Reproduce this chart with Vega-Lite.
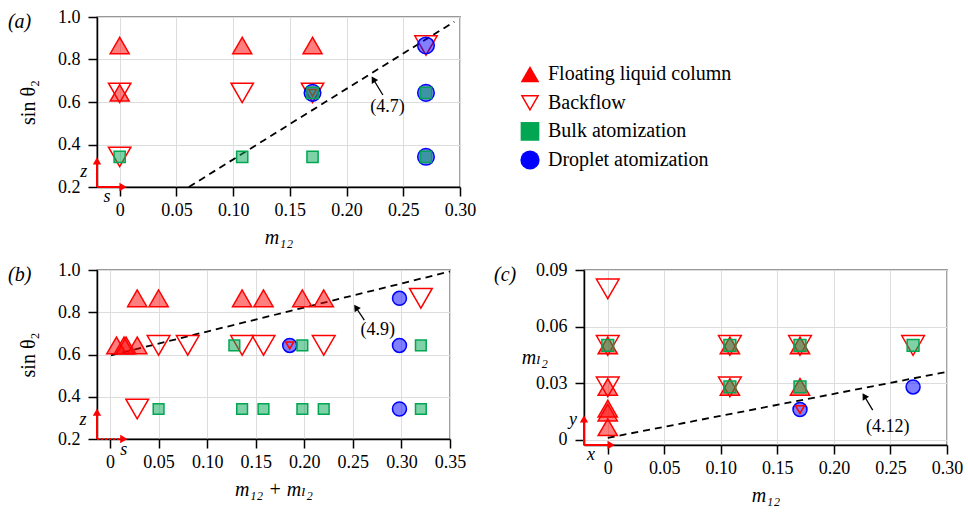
{
  "$schema": "https://vega.github.io/schema/vega-lite/v6.json",
  "padding": {"left": 7, "top": 7, "right": 0, "bottom": 0},
  "bounds": "flush",
  "columns": 2,
  "spacing": {"row": 83, "column": 124},
  "datasets": {
    "a_points": [
      {"m12": 0, "sin_theta2": 0.866, "regime": "Floating liquid column"},
      {"m12": 0.108, "sin_theta2": 0.866, "regime": "Floating liquid column"},
      {"m12": 0.17, "sin_theta2": 0.866, "regime": "Floating liquid column"},
      {"m12": 0, "sin_theta2": 0.643, "regime": "Floating liquid column"},
      {"m12": 0, "sin_theta2": 0.643, "regime": "Backflow"},
      {"m12": 0, "sin_theta2": 0.342, "regime": "Backflow"},
      {"m12": 0.108, "sin_theta2": 0.643, "regime": "Backflow"},
      {"m12": 0.17, "sin_theta2": 0.643, "regime": "Backflow"},
      {"m12": 0.27, "sin_theta2": 0.866, "regime": "Backflow"},
      {"m12": 0.17, "sin_theta2": 0.643, "regime": "Backflow", "within_droplet": true},
      {"m12": 0.17, "sin_theta2": 0.643, "regime": "Droplet atomization"},
      {"m12": 0.27, "sin_theta2": 0.866, "regime": "Droplet atomization"},
      {"m12": 0.27, "sin_theta2": 0.643, "regime": "Droplet atomization"},
      {"m12": 0.27, "sin_theta2": 0.342, "regime": "Droplet atomization"},
      {"m12": 0, "sin_theta2": 0.342, "regime": "Bulk atomization"},
      {"m12": 0.108, "sin_theta2": 0.342, "regime": "Bulk atomization"},
      {"m12": 0.17, "sin_theta2": 0.342, "regime": "Bulk atomization"},
      {"m12": 0.17, "sin_theta2": 0.643, "regime": "Bulk atomization"},
      {"m12": 0.27, "sin_theta2": 0.643, "regime": "Bulk atomization"},
      {"m12": 0.27, "sin_theta2": 0.342, "regime": "Bulk atomization"}
    ],
    "a_boundary": [{"m12": 0.061, "sin_theta2": 0.2}, {"m12": 0.295, "sin_theta2": 0.978}],
    "a_arrow": [{"m12": 0.232, "sin_theta2": 0.633, "m12_end": 0.2236, "sin_theta2_end": 0.707}],
    "a_arrow_head": [{"m12": 0.2236, "sin_theta2": 0.707}],
    "a_note": [{"m12": 0.236, "sin_theta2": 0.575, "label": "(4.7)"}],
    "a_frame": [
      {"m12": -0.02, "sin_theta2": 0.2, "m12_end": -0.02, "sin_theta2_end": 0.323},
      {"m12": -0.02, "sin_theta2": 0.2, "m12_end": 0.003, "sin_theta2_end": 0.2}
    ],
    "a_frame_up": [{"m12": -0.02, "sin_theta2": 0.323}],
    "a_frame_right": [{"m12": 0.003, "sin_theta2": 0.2}],
    "a_frame_labels": [
      {"m12": -0.0317, "sin_theta2": 0.271, "label": "z"},
      {"m12": -0.0112, "sin_theta2": 0.153, "label": "s"}
    ],
    "a_tag": [{"m12": -0.0985, "sin_theta2": 0.9765, "label": "(a)"}],
    "b_points": [
      {"m12_plus_mL2": 0.028, "sin_theta2": 0.866, "regime": "Floating liquid column"},
      {"m12_plus_mL2": 0.05, "sin_theta2": 0.866, "regime": "Floating liquid column"},
      {"m12_plus_mL2": 0.136, "sin_theta2": 0.866, "regime": "Floating liquid column"},
      {"m12_plus_mL2": 0.158, "sin_theta2": 0.866, "regime": "Floating liquid column"},
      {"m12_plus_mL2": 0.198, "sin_theta2": 0.866, "regime": "Floating liquid column"},
      {"m12_plus_mL2": 0.22, "sin_theta2": 0.866, "regime": "Floating liquid column"},
      {"m12_plus_mL2": 0.0066, "sin_theta2": 0.643, "regime": "Floating liquid column"},
      {"m12_plus_mL2": 0.0144, "sin_theta2": 0.643, "regime": "Floating liquid column"},
      {"m12_plus_mL2": 0.0165, "sin_theta2": 0.643, "regime": "Floating liquid column"},
      {"m12_plus_mL2": 0.028, "sin_theta2": 0.643, "regime": "Floating liquid column"},
      {"m12_plus_mL2": 0.05, "sin_theta2": 0.643, "regime": "Backflow"},
      {"m12_plus_mL2": 0.08, "sin_theta2": 0.643, "regime": "Backflow"},
      {"m12_plus_mL2": 0.136, "sin_theta2": 0.643, "regime": "Backflow"},
      {"m12_plus_mL2": 0.158, "sin_theta2": 0.643, "regime": "Backflow"},
      {"m12_plus_mL2": 0.22, "sin_theta2": 0.643, "regime": "Backflow"},
      {"m12_plus_mL2": 0.32, "sin_theta2": 0.866, "regime": "Backflow"},
      {"m12_plus_mL2": 0.028, "sin_theta2": 0.342, "regime": "Backflow"},
      {"m12_plus_mL2": 0.185, "sin_theta2": 0.643, "regime": "Backflow", "within_droplet": true},
      {"m12_plus_mL2": 0.185, "sin_theta2": 0.643, "regime": "Droplet atomization"},
      {"m12_plus_mL2": 0.298, "sin_theta2": 0.866, "regime": "Droplet atomization"},
      {"m12_plus_mL2": 0.298, "sin_theta2": 0.643, "regime": "Droplet atomization"},
      {"m12_plus_mL2": 0.298, "sin_theta2": 0.342, "regime": "Droplet atomization"},
      {"m12_plus_mL2": 0.128, "sin_theta2": 0.643, "regime": "Bulk atomization"},
      {"m12_plus_mL2": 0.198, "sin_theta2": 0.643, "regime": "Bulk atomization"},
      {"m12_plus_mL2": 0.32, "sin_theta2": 0.643, "regime": "Bulk atomization"},
      {"m12_plus_mL2": 0.05, "sin_theta2": 0.342, "regime": "Bulk atomization"},
      {"m12_plus_mL2": 0.136, "sin_theta2": 0.342, "regime": "Bulk atomization"},
      {"m12_plus_mL2": 0.158, "sin_theta2": 0.342, "regime": "Bulk atomization"},
      {"m12_plus_mL2": 0.198, "sin_theta2": 0.342, "regime": "Bulk atomization"},
      {"m12_plus_mL2": 0.22, "sin_theta2": 0.342, "regime": "Bulk atomization"},
      {"m12_plus_mL2": 0.32, "sin_theta2": 0.342, "regime": "Bulk atomization"}
    ],
    "b_boundary": [{"m12_plus_mL2": 0.001, "sin_theta2": 0.596}, {"m12_plus_mL2": 0.35, "sin_theta2": 0.993}],
    "b_arrow": [{"m12_plus_mL2": 0.2618, "sin_theta2": 0.763, "m12_plus_mL2_end": 0.2532, "sin_theta2_end": 0.8225}],
    "b_arrow_head": [{"m12_plus_mL2": 0.2532, "sin_theta2": 0.8225}],
    "b_note": [{"m12_plus_mL2": 0.2756, "sin_theta2": 0.716, "label": "(4.9)"}],
    "b_frame_up_rule": [{"m12_plus_mL2": -0.0134, "sin_theta2": 0.2, "m12_plus_mL2_end": -0.0134, "sin_theta2_end": 0.327}],
    "b_frame_right_rule": [{"m12_plus_mL2": -0.0134, "sin_theta2": 0.2, "m12_plus_mL2_end": 0.0142, "sin_theta2_end": 0.2}],
    "b_frame_up": [{"m12_plus_mL2": -0.0134, "sin_theta2": 0.327}],
    "b_frame_right": [{"m12_plus_mL2": 0.0142, "sin_theta2": 0.2}],
    "b_frame_labels": [
      {"m12_plus_mL2": -0.0278, "sin_theta2": 0.29, "label": "z"},
      {"m12_plus_mL2": 0.0141, "sin_theta2": 0.148, "label": "s"}
    ],
    "b_tag": [{"m12_plus_mL2": -0.105, "sin_theta2": 0.976, "label": "(b)"}],
    "c_points": [
      {"m12": 0, "mL2": 0.05, "regime": "Floating liquid column"},
      {"m12": 0, "mL2": 0.028, "regime": "Floating liquid column"},
      {"m12": 0, "mL2": 0.0165, "regime": "Floating liquid column"},
      {"m12": 0, "mL2": 0.0144, "regime": "Floating liquid column"},
      {"m12": 0, "mL2": 0.0066, "regime": "Floating liquid column"},
      {"m12": 0.108, "mL2": 0.05, "regime": "Floating liquid column"},
      {"m12": 0.108, "mL2": 0.028, "regime": "Floating liquid column"},
      {"m12": 0.17, "mL2": 0.05, "regime": "Floating liquid column"},
      {"m12": 0.17, "mL2": 0.028, "regime": "Floating liquid column"},
      {"m12": 0, "mL2": 0.08, "regime": "Backflow"},
      {"m12": 0, "mL2": 0.05, "regime": "Backflow"},
      {"m12": 0, "mL2": 0.028, "regime": "Backflow"},
      {"m12": 0.108, "mL2": 0.05, "regime": "Backflow"},
      {"m12": 0.108, "mL2": 0.028, "regime": "Backflow"},
      {"m12": 0.17, "mL2": 0.05, "regime": "Backflow"},
      {"m12": 0.27, "mL2": 0.05, "regime": "Backflow"},
      {"m12": 0.17, "mL2": 0.016, "regime": "Backflow", "within_droplet": true},
      {"m12": 0.17, "mL2": 0.016, "regime": "Droplet atomization"},
      {"m12": 0.27, "mL2": 0.028, "regime": "Droplet atomization"},
      {"m12": 0, "mL2": 0.05, "regime": "Bulk atomization"},
      {"m12": 0.108, "mL2": 0.05, "regime": "Bulk atomization"},
      {"m12": 0.108, "mL2": 0.028, "regime": "Bulk atomization"},
      {"m12": 0.17, "mL2": 0.05, "regime": "Bulk atomization"},
      {"m12": 0.17, "mL2": 0.028, "regime": "Bulk atomization"},
      {"m12": 0.27, "mL2": 0.05, "regime": "Bulk atomization"}
    ],
    "c_boundary": [{"m12": 0, "mL2": 0.001}, {"m12": 0.3, "mL2": 0.036}],
    "c_arrow": [{"m12": 0.2343, "mL2": 0.0157, "m12_end": 0.2268, "mL2_end": 0.0232}],
    "c_arrow_head": [{"m12": 0.2268, "mL2": 0.0232}],
    "c_note": [{"m12": 0.2476, "mL2": 0.0066, "label": "(4.12)"}],
    "c_frame": [
      {"m12": -0.021, "mL2": -0.0028, "m12_end": -0.021, "mL2_end": 0.011},
      {"m12": -0.021, "mL2": -0.0028, "m12_end": 0.003, "mL2_end": -0.0028}
    ],
    "c_frame_up": [{"m12": -0.021, "mL2": 0.011}],
    "c_frame_right": [{"m12": 0.003, "mL2": -0.0028}],
    "c_frame_labels": [
      {"m12": -0.0307, "mL2": 0.0104, "label": "y"},
      {"m12": -0.0148, "mL2": -0.0081, "label": "x"}
    ],
    "c_tag": [{"m12": -0.1006, "mL2": 0.0873, "label": "(c)"}],
    "legend": [
      {"regime": "Floating liquid column"},
      {"regime": "Backflow"},
      {"regime": "Bulk atomization"},
      {"regime": "Droplet atomization"}
    ]
  },
  "concat": [
    {
      "width": 363,
      "height": 170,
      "encoding": {
        "x": {"field": "m12", "type": "quantitative", "scale": {"domain": [-0.02, 0.3], "nice": false, "zero": false},
          "axis": {"title": "m₁₂", "titleFontStyle": "italic", "values": [0, 0.05, 0.1, 0.15, 0.2, 0.25, 0.3], "labelExpr": "datum.value == 0 ? '0' : format(datum.value, '.2f')"}},
        "y": {"field": "sin_theta2", "type": "quantitative", "scale": {"domain": [0.2, 1], "nice": false, "zero": false},
          "axis": {"title": "sin θ₂", "values": [0.2, 0.4, 0.6, 0.8, 1], "format": ".1f"}}
      },
      "layer": [
        {"data": {"name": "a_boundary"}, "mark": {"type": "line", "color": "#000000", "strokeDash": [7, 5], "strokeWidth": 1.8}},
        {"data": {"name": "a_points"}, "transform": [{"filter": "datum.regime === 'Backflow' && !datum.within_droplet"}],
          "mark": {"type": "point", "shape": "triangle-down", "filled": false, "stroke": "#ff0000", "strokeWidth": 1.5, "opacity": 1, "size": 500}},
        {"data": {"name": "a_points"}, "transform": [{"filter": "datum.regime === 'Floating liquid column'"}],
          "mark": {"type": "point", "shape": "triangle-up", "filled": true, "fill": "#ff0000", "fillOpacity": 0.5, "stroke": "#ff0000", "strokeWidth": 1.5, "opacity": 1, "size": 360}},
        {"data": {"name": "a_points"}, "transform": [{"filter": "datum.regime === 'Droplet atomization'"}],
          "mark": {"type": "point", "shape": "circle", "filled": true, "fill": "#0000ff", "fillOpacity": 0.5, "stroke": "#0000ff", "strokeWidth": 1.5, "opacity": 1, "size": 275}},
        {"data": {"name": "a_points"}, "transform": [{"filter": "datum.regime === 'Backflow' && datum.within_droplet"}],
          "mark": {"type": "point", "shape": "triangle-down", "filled": false, "stroke": "#ff0000", "strokeWidth": 1.5, "opacity": 1, "size": 60}},
        {"data": {"name": "a_points"}, "transform": [{"filter": "datum.regime === 'Bulk atomization'"}],
          "mark": {"type": "point", "shape": "square", "filled": true, "fill": "#00a651", "fillOpacity": 0.5, "stroke": "#00a651", "strokeWidth": 1.5, "opacity": 1, "size": 125}},
        {"data": {"name": "a_arrow"}, "mark": {"type": "rule", "color": "#000000", "strokeWidth": 1.3},
          "encoding": {"x2": {"field": "m12_end"}, "y2": {"field": "sin_theta2_end"}}},
        {"data": {"name": "a_arrow_head"}, "mark": {"type": "point", "shape": "triangle-up", "filled": true, "color": "#000000", "opacity": 1, "size": 55, "angle": 329}},
        {"data": {"name": "a_note"}, "mark": {"type": "text", "fontSize": 18, "align": "center", "baseline": "middle"}, "encoding": {"text": {"field": "label"}}},
        {"data": {"name": "a_frame"}, "mark": {"type": "rule", "color": "#ff0000", "strokeWidth": 2},
          "encoding": {"x2": {"field": "m12_end"}, "y2": {"field": "sin_theta2_end"}}},
        {"data": {"name": "a_frame_up"}, "mark": {"type": "point", "shape": "triangle-up", "filled": true, "color": "#ff0000", "opacity": 1, "size": 70}},
        {"data": {"name": "a_frame_right"}, "mark": {"type": "point", "shape": "triangle-right", "filled": true, "color": "#ff0000", "opacity": 1, "size": 70}},
        {"data": {"name": "a_frame_labels"}, "mark": {"type": "text", "fontSize": 18, "fontStyle": "italic", "align": "center", "baseline": "middle"}, "encoding": {"text": {"field": "label"}}},
        {"data": {"name": "a_tag"}, "mark": {"type": "text", "fontSize": 20, "fontStyle": "italic", "align": "left", "baseline": "middle"}, "encoding": {"text": {"field": "label"}}}
      ]
    },
    {
      "width": 200,
      "height": 143,
      "view": {"stroke": null},
      "data": {"name": "legend"},
      "encoding": {
        "x": {"datum": -0.27, "type": "quantitative", "scale": {"domain": [0, 1], "nice": false, "zero": false}, "axis": null},
        "y": {"field": "regime", "type": "nominal", "sort": null, "scale": {"type": "point", "padding": 1, "align": 1}, "axis": null}
      },
      "layer": [
        {"transform": [{"filter": "datum.regime === 'Floating liquid column'"}],
          "mark": {"type": "point", "shape": "triangle-up", "filled": true, "fill": "#ff0000", "strokeWidth": 0, "opacity": 1, "size": 350}},
        {"transform": [{"filter": "datum.regime === 'Backflow'"}],
          "mark": {"type": "point", "shape": "triangle-down", "filled": false, "stroke": "#ff0000", "strokeWidth": 1.5, "opacity": 1, "size": 260}},
        {"transform": [{"filter": "datum.regime === 'Bulk atomization'"}],
          "mark": {"type": "point", "shape": "square", "filled": true, "fill": "#00a651", "strokeWidth": 0, "opacity": 1, "size": 350}},
        {"transform": [{"filter": "datum.regime === 'Droplet atomization'"}],
          "mark": {"type": "point", "shape": "circle", "filled": true, "fill": "#0000ff", "strokeWidth": 0, "opacity": 1, "size": 370}},
        {"mark": {"type": "text", "align": "left", "baseline": "middle", "dx": 18, "fontSize": 20}, "encoding": {"text": {"field": "regime"}}}
      ]
    },
    {
      "width": 353,
      "height": 169,
      "encoding": {
        "x": {"field": "m12_plus_mL2", "type": "quantitative", "scale": {"domain": [-0.0134, 0.35], "nice": false, "zero": false},
          "axis": {"title": "m₁₂ + mₗ₂", "titleFontStyle": "italic", "values": [0, 0.05, 0.1, 0.15, 0.2, 0.25, 0.3, 0.35], "labelExpr": "datum.value == 0 ? '0' : format(datum.value, '.2f')"}},
        "y": {"field": "sin_theta2", "type": "quantitative", "scale": {"domain": [0.2, 1], "nice": false, "zero": false},
          "axis": {"title": "sin θ₂", "values": [0.2, 0.4, 0.6, 0.8, 1], "format": ".1f"}}
      },
      "layer": [
        {"data": {"name": "b_boundary"}, "mark": {"type": "line", "color": "#000000", "strokeDash": [7, 5], "strokeWidth": 1.8}},
        {"data": {"name": "b_points"}, "transform": [{"filter": "datum.regime === 'Backflow' && !datum.within_droplet"}],
          "mark": {"type": "point", "shape": "triangle-down", "filled": false, "stroke": "#ff0000", "strokeWidth": 1.5, "opacity": 1, "size": 515}},
        {"data": {"name": "b_points"}, "transform": [{"filter": "datum.regime === 'Floating liquid column'"}],
          "mark": {"type": "point", "shape": "triangle-up", "filled": true, "fill": "#ff0000", "fillOpacity": 0.5, "stroke": "#ff0000", "strokeWidth": 1.5, "opacity": 1, "size": 370}},
        {"data": {"name": "b_points"}, "transform": [{"filter": "datum.regime === 'Droplet atomization'"}],
          "mark": {"type": "point", "shape": "circle", "filled": true, "fill": "#0000ff", "fillOpacity": 0.5, "stroke": "#0000ff", "strokeWidth": 1.5, "opacity": 1, "size": 196}},
        {"data": {"name": "b_points"}, "transform": [{"filter": "datum.regime === 'Backflow' && datum.within_droplet"}],
          "mark": {"type": "point", "shape": "triangle-down", "filled": false, "stroke": "#ff0000", "strokeWidth": 1.5, "opacity": 1, "size": 65}},
        {"data": {"name": "b_points"}, "transform": [{"filter": "datum.regime === 'Bulk atomization'"}],
          "mark": {"type": "point", "shape": "square", "filled": true, "fill": "#00a651", "fillOpacity": 0.5, "stroke": "#00a651", "strokeWidth": 1.5, "opacity": 1, "size": 115}},
        {"data": {"name": "b_arrow"}, "mark": {"type": "rule", "color": "#000000", "strokeWidth": 1.3},
          "encoding": {"x2": {"field": "m12_plus_mL2_end"}, "y2": {"field": "sin_theta2_end"}}},
        {"data": {"name": "b_arrow_head"}, "mark": {"type": "point", "shape": "triangle-up", "filled": true, "color": "#000000", "opacity": 1, "size": 55, "angle": 326}},
        {"data": {"name": "b_note"}, "mark": {"type": "text", "fontSize": 18, "align": "center", "baseline": "middle"}, "encoding": {"text": {"field": "label"}}},
        {"data": {"name": "b_frame_up_rule"}, "mark": {"type": "rule", "color": "#ff0000", "strokeWidth": 2},
          "encoding": {"x2": {"field": "m12_plus_mL2_end"}, "y2": {"field": "sin_theta2_end"}}},
        {"data": {"name": "b_frame_right_rule"}, "mark": {"type": "rule", "color": "#ff0000", "strokeWidth": 2, "strokeDash": [2, 2]},
          "encoding": {"x2": {"field": "m12_plus_mL2_end"}, "y2": {"field": "sin_theta2_end"}}},
        {"data": {"name": "b_frame_up"}, "mark": {"type": "point", "shape": "triangle-up", "filled": true, "color": "#ff0000", "opacity": 1, "size": 70}},
        {"data": {"name": "b_frame_right"}, "mark": {"type": "point", "shape": "triangle-right", "filled": true, "color": "#ff0000", "opacity": 1, "size": 70}},
        {"data": {"name": "b_frame_labels"}, "mark": {"type": "text", "fontSize": 18, "fontStyle": "italic", "align": "center", "baseline": "middle"}, "encoding": {"text": {"field": "label"}}},
        {"data": {"name": "b_tag"}, "mark": {"type": "text", "fontSize": 20, "fontStyle": "italic", "align": "left", "baseline": "middle"}, "encoding": {"text": {"field": "label"}}}
      ]
    },
    {
      "width": 363,
      "height": 175,
      "encoding": {
        "x": {"field": "m12", "type": "quantitative", "scale": {"domain": [-0.021, 0.3], "nice": false, "zero": false},
          "axis": {"title": "m₁₂", "titleFontStyle": "italic", "values": [0, 0.05, 0.1, 0.15, 0.2, 0.25, 0.3], "labelExpr": "datum.value == 0 ? '0' : format(datum.value, '.2f')"}},
        "y": {"field": "mL2", "type": "quantitative", "scale": {"domain": [-0.0028, 0.09], "nice": false, "zero": false},
          "axis": {"title": "mₗ₂", "titleFontStyle": "italic", "titleAngle": 0, "titleAlign": "right", "titleBaseline": "middle", "titlePadding": -12, "values": [0, 0.03, 0.06, 0.09], "labelExpr": "datum.value == 0 ? '0' : format(datum.value, '.2f')"}}
      },
      "layer": [
        {"data": {"name": "c_boundary"}, "mark": {"type": "line", "color": "#000000", "strokeDash": [7, 5], "strokeWidth": 1.8}},
        {"data": {"name": "c_points"}, "transform": [{"filter": "datum.regime === 'Backflow' && !datum.within_droplet"}],
          "mark": {"type": "point", "shape": "triangle-down", "filled": false, "stroke": "#ff0000", "strokeWidth": 1.5, "opacity": 1, "size": 515}},
        {"data": {"name": "c_points"}, "transform": [{"filter": "datum.regime === 'Floating liquid column'"}],
          "mark": {"type": "point", "shape": "triangle-up", "filled": true, "fill": "#ff0000", "fillOpacity": 0.5, "stroke": "#ff0000", "strokeWidth": 1.5, "opacity": 1, "size": 370}},
        {"data": {"name": "c_points"}, "transform": [{"filter": "datum.regime === 'Droplet atomization'"}],
          "mark": {"type": "point", "shape": "circle", "filled": true, "fill": "#0000ff", "fillOpacity": 0.5, "stroke": "#0000ff", "strokeWidth": 1.5, "opacity": 1, "size": 196}},
        {"data": {"name": "c_points"}, "transform": [{"filter": "datum.regime === 'Backflow' && datum.within_droplet"}],
          "mark": {"type": "point", "shape": "triangle-down", "filled": false, "stroke": "#ff0000", "strokeWidth": 1.5, "opacity": 1, "size": 80}},
        {"data": {"name": "c_points"}, "transform": [{"filter": "datum.regime === 'Bulk atomization'"}],
          "mark": {"type": "point", "shape": "square", "filled": true, "fill": "#00a651", "fillOpacity": 0.5, "stroke": "#00a651", "strokeWidth": 1.5, "opacity": 1, "size": 140}},
        {"data": {"name": "c_arrow"}, "mark": {"type": "rule", "color": "#000000", "strokeWidth": 1.3},
          "encoding": {"x2": {"field": "m12_end"}, "y2": {"field": "mL2_end"}}},
        {"data": {"name": "c_arrow_head"}, "mark": {"type": "point", "shape": "triangle-up", "filled": true, "color": "#000000", "opacity": 1, "size": 55, "angle": 329}},
        {"data": {"name": "c_note"}, "mark": {"type": "text", "fontSize": 18, "align": "center", "baseline": "middle"}, "encoding": {"text": {"field": "label"}}},
        {"data": {"name": "c_frame"}, "mark": {"type": "rule", "color": "#ff0000", "strokeWidth": 2},
          "encoding": {"x2": {"field": "m12_end"}, "y2": {"field": "mL2_end"}}},
        {"data": {"name": "c_frame_up"}, "mark": {"type": "point", "shape": "triangle-up", "filled": true, "color": "#ff0000", "opacity": 1, "size": 70}},
        {"data": {"name": "c_frame_right"}, "mark": {"type": "point", "shape": "triangle-right", "filled": true, "color": "#ff0000", "opacity": 1, "size": 70}},
        {"data": {"name": "c_frame_labels"}, "mark": {"type": "text", "fontSize": 18, "fontStyle": "italic", "align": "center", "baseline": "middle"}, "encoding": {"text": {"field": "label"}}},
        {"data": {"name": "c_tag"}, "mark": {"type": "text", "fontSize": 20, "fontStyle": "italic", "align": "left", "baseline": "middle"}, "encoding": {"text": {"field": "label"}}}
      ]
    }
  ],
  "config": {
    "font": "Liberation Serif, DejaVu Serif, serif",
    "background": "#ffffff",
    "view": {"stroke": "#333333", "strokeWidth": 1.3},
    "axis": {
      "labelFont": "Liberation Serif, DejaVu Serif, serif", "labelFontSize": 18, "labelColor": "#000000",
      "titleFont": "Liberation Serif, DejaVu Serif, serif", "titleFontSize": 20, "titleFontWeight": "normal", "titleColor": "#000000",
      "domainColor": "#000000", "domainWidth": 1.5, "tickColor": "#000000", "tickWidth": 1.5, "tickSize": 9,
      "gridColor": "#dddddd", "gridWidth": 1, "labelFlush": false, "labelOverlap": false
    },
    "axisX": {"labelPadding": 5, "titlePadding": 8},
    "axisY": {"labelPadding": 8, "titlePadding": 19},
    "text": {"font": "Liberation Serif, DejaVu Serif, serif", "color": "#000000"}
  }
}
